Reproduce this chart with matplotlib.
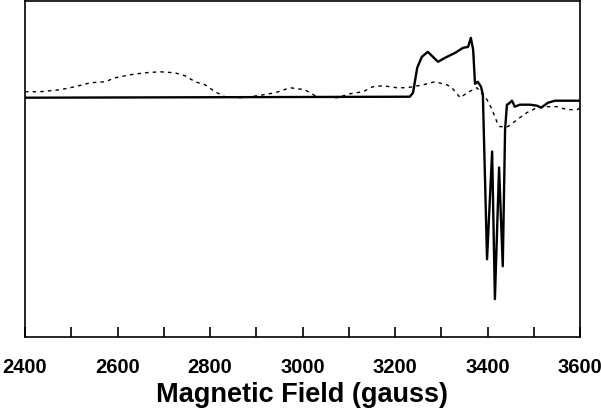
import numpy as np
import matplotlib.pyplot as plt

# solid trace (field in gauss, signal in arbitrary units)
solid_field = [2400, 3232, 3239, 3248, 3258, 3271, 3282, 3293, 3308, 3330,
               3347, 3358, 3364, 3369, 3373, 3379, 3386, 3390, 3399, 3410,
               3416, 3425, 3433, 3438, 3442, 3446, 3453, 3459, 3470, 3492,
               3507, 3516, 3531, 3546, 3600]
solid_signal = [0, 1, 5, 30, 41, 46, 41, 36, 40, 45,
                50, 51, 60, 48, 14, 16, 11, 3, -162, -54,
                -202, -70, -169, -32, -7, -6, -3, -9, -7, -7,
                -8, -10, -5, -3, -3]

# dashed trace
dashed_field = [2400, 2432, 2476, 2508, 2541, 2573, 2595, 2627, 2659, 2692,
                2724, 2746, 2768, 2789, 2811, 2832, 2865, 2904, 2941, 2973,
                3005, 3031, 3075, 3103, 3131, 3152, 3174, 3204, 3226, 3261,
                3286, 3312, 3323, 3341, 3356, 3377, 3399, 3410, 3421, 3427,
                3444, 3464, 3485, 3507, 3529, 3550, 3572, 3594, 3600]
dashed_signal = [6, 6, 8, 11, 15, 16, 20, 23, 25, 26,
                 25, 22, 16, 13, 6, 1, 0, 2, 5, 10,
                 8, 1, 0, 4, 6, 11, 12, 10, 10, 13,
                 16, 13, 10, 0, 5, 10, -2, -12, -25, -29,
                 -29, -22, -15, -10, -9, -9, -12, -12, -10]

xticks_major = [2400, 2600, 2800, 3000, 3200, 3400, 3600]

plt.rcParams['font.family'] = ['Liberation Sans', 'DejaVu Sans']

fig = plt.figure(figsize=(6.01, 4.13), dpi=100)
ax = fig.add_axes([25 / 601, 76 / 413, 555 / 601, 336 / 413])

ax.plot(dashed_field, dashed_signal, color='black', lw=1.0, ls=(0, (2.5, 3)))
ax.plot(solid_field, solid_signal, color='black', lw=1.7)

ax.set_xlim(2400, 3600)
ax.set_ylim(-240, 97)
ax.set_yticks([])
ax.set_xticks(xticks_major, labels=[str(t) for t in xticks_major])
ax.set_xticks(np.arange(2500, 3600, 200), minor=True)
ax.tick_params(axis='x', which='both', direction='in', length=7, width=1.2)
ax.tick_params(axis='x', which='major', pad=15, labelsize=14.5)
for lab in ax.get_xticklabels():
    lab.set_fontweight('bold')
for s in ax.spines.values():
    s.set_linewidth(1.2)

ax.set_xlabel('Magnetic Field (gauss)', fontsize=19.5, fontweight='bold', labelpad=4)

fig.savefig('out.png', dpi=100)
